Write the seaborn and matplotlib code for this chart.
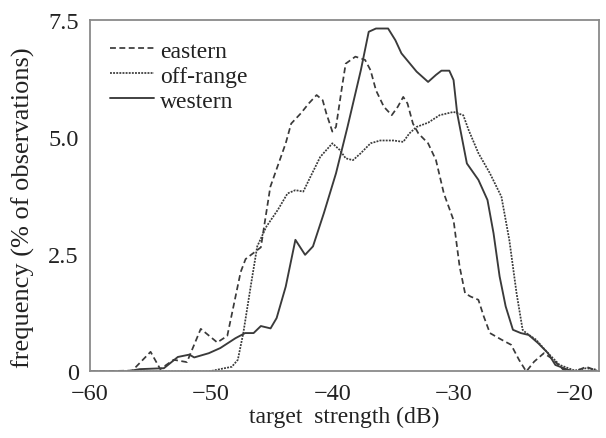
import numpy as np
import pandas as pd
import matplotlib
matplotlib.use("Agg")
import matplotlib.pyplot as plt
import seaborn as sns

# ---- data ----
western_x = [-60, -57, -55.9, -53.9, -52.75, -51.8, -51.4, -50.2, -49.25, -48.0, -47.2, -46.5,
             -45.9, -45.1, -44.6, -43.85, -43.05, -42.25, -41.6, -40.7, -39.7, -38.75, -37.65,
             -37.0, -36.4, -35.4, -34.8, -34.3, -33.05, -32.1, -31.45, -31.0, -30.35, -30.0,
             -29.7, -28.9, -27.95, -27.2, -26.7, -26.2, -25.7, -25.1, -24.45, -23.8, -23.0,
             -22.2, -21.6, -20.6, -20.0, -18.2]
western_y = [0, 0.0, 0.05, 0.07, 0.31, 0.36, 0.30, 0.39, 0.5, 0.71, 0.82, 0.82,
             0.97, 0.92, 1.14, 1.81, 2.81, 2.49, 2.67, 3.38, 4.23, 5.22, 6.43,
             7.25, 7.32, 7.32, 7.07, 6.79, 6.4, 6.18, 6.33, 6.42, 6.42, 6.22,
             5.51, 4.44, 4.09, 3.66, 2.95, 2.03, 1.39, 0.89, 0.82, 0.78, 0.6,
             0.39, 0.14, 0.04, 0.0, 0.02]

eastern_x = [-60, -56.5, -55.0, -54.2, -53.1, -52.0, -50.86, -49.5, -48.67, -47.57, -47.16,
             -45.9, -45.12, -43.85, -43.4, -42.6, -41.95, -41.3, -40.8, -40.5, -40.0, -39.7,
             -39.2, -38.9, -38.1, -37.3, -36.85, -36.4, -35.75, -35.1, -34.6, -34.15, -33.8,
             -33.35, -32.9, -32.1, -31.45, -30.8, -30.0, -29.5, -29.05, -28.6, -27.95, -27.5,
             -27.0, -26.05, -25.25, -24.6, -24.0, -23.35, -22.55, -21.9, -20.95, -20.0,
             -19.05, -18.2]
eastern_y = [0, 0.02, 0.42, 0.05, 0.25, 0.2, 0.91, 0.62, 0.76, 2.12, 2.4,
             2.65, 3.94, 4.87, 5.29, 5.51, 5.72, 5.9, 5.79, 5.51, 5.12, 5.22,
             6.08, 6.57, 6.72, 6.65, 6.43, 6.0, 5.65, 5.47, 5.65, 5.86, 5.72,
             5.29, 5.08, 4.87, 4.51, 3.8, 3.23, 2.24, 1.67, 1.6, 1.53, 1.17,
             0.82, 0.68, 0.57, 0.25, 0.0, 0.21, 0.39, 0.28, 0.04, 0.0,
             0.1, 0.02]

offrange_x = [-60, -50.2, -48.9, -48.3, -47.8, -47.35, -46.7, -46.2, -45.45, -44.5, -43.7,
              -43.05, -42.4, -41.8, -41.0, -40.0, -39.4, -38.9, -38.3, -37.65, -36.85, -36.05,
              -34.95, -34.15, -33.65, -33.05, -32.1, -31.15, -30.0, -29.2, -28.75, -27.95,
              -27.0, -26.05, -25.4, -24.8, -24.3, -24.0, -23.2, -22.2, -21.25, -20.0, -19.05,
              -18.2]
offrange_y = [0, 0.0, 0.07, 0.1, 0.25, 0.82, 1.88, 2.67, 3.09, 3.45, 3.8,
              3.87, 3.84, 4.16, 4.58, 4.87, 4.73, 4.55, 4.51, 4.66, 4.87, 4.93,
              4.93, 4.9, 5.08, 5.22, 5.31, 5.47, 5.54, 5.47, 5.15, 4.66,
              4.23, 3.73, 2.81, 1.67, 0.89, 0.82, 0.68, 0.39, 0.14, 0.02, 0.07,
              0.04]

x_ticks = [-60, -50, -40, -30, -20]
x_ticklabels = ["\u221260", "\u221250", "\u221240", "\u221230", "\u221220"]
y_ticks = [0, 2.5, 5.0, 7.5]
y_ticklabels = ["0", "2.5", "5.0", "7.5"]

sns.set_theme(style="white")
plt.rcParams["font.family"] = ["Liberation Serif", "DejaVu Serif"]

fig = plt.figure(figsize=(6.06, 4.39), dpi=100)
ax = fig.add_axes([0.1485, 0.1515, 0.8399, 0.8005])

line_col = "#3a3a3a"
sns.lineplot(x=eastern_x, y=eastern_y, ax=ax, color=line_col, lw=1.25,
             linestyle=(0, (3.4, 2.0)), sort=False, estimator=None, label="eastern")
sns.lineplot(x=offrange_x, y=offrange_y, ax=ax, color=line_col, lw=1.25,
             linestyle=(0, (1.1, 0.7)), sort=False, estimator=None, label="off-range")
sns.lineplot(x=western_x, y=western_y, ax=ax, color=line_col, lw=1.35,
             linestyle="-", sort=False, estimator=None, label="western")

ax.set_xlim(-60, -18)
ax.set_ylim(0, 7.5)
ax.set_xticks(x_ticks)
ax.set_xticklabels(x_ticklabels)
ax.set_yticks(y_ticks)
ax.set_yticklabels(y_ticklabels)
ax.tick_params(axis="both", labelsize=17.5, labelcolor="#222222", length=5, width=1.2,
               direction="out", color="#777777")
ax.tick_params(axis="x", pad=3.5)
ax.tick_params(axis="y", pad=3)

for s in ax.spines.values():
    s.set_color("#8a8a8a")
    s.set_linewidth(1.3)

ax.set_xlabel("target  strength (dB)", fontsize=17, color="#222222", labelpad=1)
ax.set_ylabel("frequency (% of observations)", fontsize=19, color="#222222")
ax.yaxis.set_label_coords(-0.108, 0.47)

leg = ax.legend(loc="upper left", bbox_to_anchor=(0.02, 0.97), frameon=False,
                fontsize=17, handlelength=1.9, handletextpad=0.25, labelspacing=0.15,
                borderaxespad=0.0)
for t in leg.get_texts():
    t.set_color("#222222")

fig.savefig("out.png", dpi=100)
